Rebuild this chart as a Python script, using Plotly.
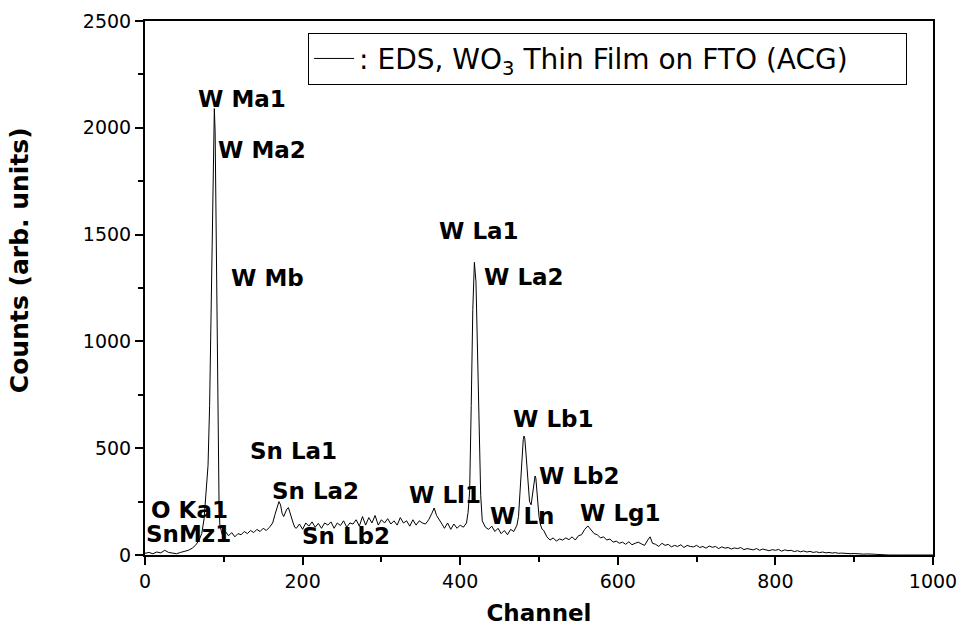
import plotly.graph_objects as go

# Channel positions and counts
channel = [0, 5, 10, 15, 20, 25, 30, 35, 40, 45, 50, 55, 60, 64, 68, 72, 75, 78, 80, 82,
           84, 86, 87, 88, 89, 90, 91, 92, 93, 94, 95, 97,
           98, 102, 106, 110, 114, 118, 122, 126, 130, 134, 138, 142, 146, 150, 154, 158, 162,
           165, 168, 170, 172, 174, 176, 178, 180, 182, 184, 186, 188, 190,
           192, 196, 200, 204, 208, 212, 216, 220, 224, 228, 232, 236, 240, 244, 248, 252, 256,
           260, 264, 268, 272, 276, 280, 284, 288, 292, 296, 300, 304, 308, 312, 316, 320, 324,
           328, 332, 336, 340, 344, 348, 352, 356, 360,
           364, 367, 370, 373, 376, 380, 384, 388, 392, 396, 400, 404, 408,
           410, 412, 414, 416, 418, 420, 422, 424, 426, 428, 430,
           432, 436, 440, 444, 448, 452, 456, 460, 464, 468, 472,
           474, 476, 478, 480, 481, 482, 484, 486, 488, 490, 492, 494, 495, 496, 498, 500, 502, 504,
           506, 510, 514, 518, 522, 526, 530, 534, 538, 542, 546, 550, 554, 558, 562, 566, 570,
           574, 578, 582, 586, 590, 594, 598, 602, 606,
           610, 614, 618, 622, 626, 630, 634, 638, 641, 644, 648, 652, 656, 660, 664, 668, 672,
           676, 680, 684, 688, 692, 696, 700, 704, 708, 712, 716, 720, 724, 728, 732, 736, 740,
           744, 748, 752, 756, 760, 764, 768, 772, 776, 780, 784, 788, 792, 796,
           800, 804, 808, 812, 816, 820, 824, 828, 832, 836, 840, 844, 848, 852, 856, 860, 864,
           868, 872, 876, 880, 884, 888, 892, 896, 900, 904, 908, 912, 916, 920, 924, 928, 932,
           936, 940, 944, 960, 980, 1000]

counts = [8, 12, 6, 14, 10, 22, 12, 10, 6, 12, 18, 22, 32, 45, 65, 100, 170, 300, 420, 700,
          1200, 1800, 2010, 2090, 1980, 1650, 1200, 750, 420, 230, 140, 100,
          95, 110, 90, 105, 85, 100, 95, 110, 100, 115, 105, 120, 110, 125, 115, 130, 150,
          190, 230, 250, 235, 195, 180, 200, 215, 222, 195, 170, 150, 130,
          125, 145, 120, 150, 135, 155, 130, 148, 125, 150, 140, 155, 125, 150, 138, 160, 130,
          150, 145, 165, 135, 180, 140, 175, 150, 185, 140, 165, 150, 170, 145, 160, 140, 175,
          150, 160, 135, 165, 140, 160, 150, 145, 165,
          195, 220, 185, 170, 150, 125, 150, 120, 145, 125, 140, 130, 150,
          200, 300, 700, 1150, 1370, 1280, 950, 560, 280, 160, 145,
          130, 120, 135, 110, 125, 100, 115, 95, 120, 110, 140,
          180, 300, 450, 540, 557, 545, 450, 320, 250, 235, 290, 355, 370, 360, 280, 180, 140, 120,
          115, 85, 70, 80, 65, 75, 70, 80, 72, 85, 70, 90, 95, 120, 136, 115, 100,
          95, 80, 85, 70, 75, 60, 65, 55, 60,
          50, 62, 48, 55, 60, 52, 45, 70, 85, 55, 50, 40, 55, 45, 50, 38, 45,
          40, 48, 35, 45, 40, 38, 45, 35, 40, 32, 42, 36, 40, 30, 38, 32, 35,
          28, 33, 30, 35, 25, 30, 28, 24, 30, 22, 28, 25, 20, 25,
          22, 26, 18, 24, 20, 22, 16, 20, 15, 19, 14, 17, 12, 15, 11, 14, 10,
          12, 9, 11, 8, 9, 7, 8, 6, 7, 5, 6, 4, 5, 3, 4, 3, 2,
          2, 1, 0, 0, 0, 0]

# Peak labels
labels = ["W Ma1", "W Ma2", "W Mb", "W La1", "W La2", "Sn La1", "Sn La2", "O Ka1",
          "SnMz1", "Sn Lb2", "W Ll1", "W Ln", "W Lb1", "W Lb2", "W Lg1"]
label_x = [123, 148, 156, 424, 481, 189, 216, 56.5, 55, 255, 380.5, 479, 518, 552, 603]
label_y = [2135, 1896, 1297, 1517, 1301, 488, 300, 211, 98, 89, 281, 183, 637, 371, 198]

FONT = "DejaVu Sans"

fig = go.Figure()
fig.add_trace(go.Scatter(
    x=channel, y=counts, mode="lines",
    line=dict(color="black", width=1),
    name=": EDS, WO<sub>3</sub> Thin Film on FTO (ACG)",
    showlegend=True,
))

for t, x, y in zip(labels, label_x, label_y):
    fig.add_annotation(x=x, y=y, text="<b>" + t + "</b>", showarrow=False,
                       font=dict(family=FONT, size=23, color="black"),
                       xanchor="center", yanchor="middle")

# Y axis title placed as rotated text
fig.add_annotation(xref="paper", yref="paper", x=-0.16, y=0.552,
                   text="<b>Counts (arb. units)</b>", textangle=-90, showarrow=False,
                   font=dict(family=FONT, size=25, color="black"),
                   xanchor="center", yanchor="middle")

axis_common = dict(
    showline=True, linecolor="black", linewidth=2, mirror=True,
    ticks="outside", ticklen=8, tickwidth=2, tickcolor="black",
    showgrid=False, zeroline=False,
    tickfont=dict(family=FONT, size=19, color="black"),
)

fig.update_xaxes(range=[0, 1000], tickmode="linear", tick0=0, dtick=200,
                 minor=dict(dtick=100, ticklen=5, tickwidth=2, tickcolor="black", ticks="outside"),
                 title=dict(text="<b>Channel</b>", font=dict(family=FONT, size=23, color="black"),
                            standoff=14),
                 **axis_common)
fig.update_yaxes(range=[0, 2500], tickmode="linear", tick0=0, dtick=500,
                 minor=dict(dtick=250, ticklen=5, tickwidth=2, tickcolor="black", ticks="outside"),
                 **axis_common)

fig.update_layout(
    width=963, height=627,
    margin=dict(l=145, r=30, t=21, b=72, autoexpand=False),
    paper_bgcolor="white", plot_bgcolor="white",
    legend=dict(x=0.207, y=0.978, xanchor="left", yanchor="top",
                orientation="h", entrywidth=542, entrywidthmode="pixels",
                bordercolor="black", borderwidth=1, bgcolor="white",
                font=dict(family=FONT, size=28, color="black"),
                itemwidth=40),
)

fig.write_html("out.html")
